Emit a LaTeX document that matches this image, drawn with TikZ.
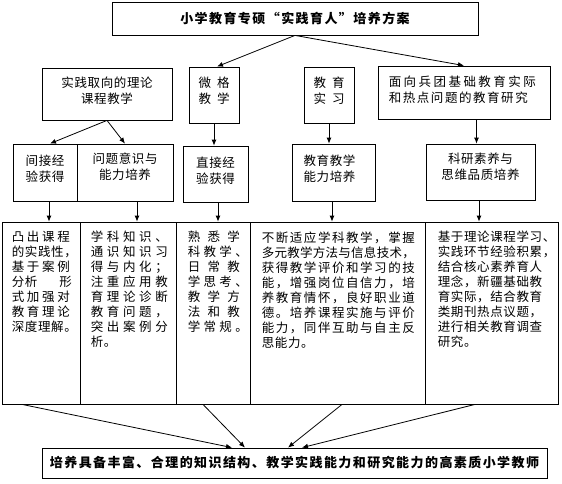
\documentclass[tikz,border=0pt]{standalone}
\usepackage{fontspec}
\setmainfont{Noto Sans CJK SC}[LetterSpace=5]
\newfontfamily\headfont{Noto Sans CJK SC}[LetterSpace=11]
\usetikzlibrary{arrows.meta,positioning}

% spread one line of characters over a given width
\ExplSyntaxOn
\NewDocumentCommand{\jl}{O{\linewidth}m}{\makebox[#1][s]{\tl_map_inline:nn{#2}{##1\hfil}\unskip}}
\ExplSyntaxOff

\tikzset{
  box/.style={draw, line width=0.8pt, inner sep=0pt},
  txt/.style={inner sep=0pt, align=center, font=\fontsize{12.5}{16.5}\selectfont},
  body/.style={inner sep=0pt, align=left, font=\fontsize{12.5}{15}\selectfont},
  head/.style={font=\headfont\bfseries\fontsize{13}{15}\selectfont},
  arr/.style={line width=0.8pt, -{Latex[length=6pt,width=5pt]}},
}

\begin{document}
\begin{tikzpicture}[x=1pt,y=-1pt]
\useasboundingbox (0,0) rectangle (562,483);
% top
\node[box, head, minimum width=366, minimum height=33] (plan) at (295,18.5) {小学教育专硕“实践育人”培养方案};
% second row
\node[box, minimum width=130, minimum height=52] (theory) at (107,94) {};
\node[txt, below=9pt of theory.north] (theoryt) {实践取向的理论\\课程教学};
\node[box, minimum width=50, minimum height=56] (micro) at (214,95) {};
\node[txt, below=10pt of micro.north] (microt) {\jl[31pt]{微格}\\\jl[31pt]{教学}};
\node[box, minimum width=50, minimum height=56] (practice) at (329,95) {};
\node[txt, below=10pt of practice.north] (practicet) {\jl[31pt]{教育}\\\jl[31pt]{实习}};
\node[box, minimum width=172, minimum height=53] (research) at (464,92.5) {};
\node[txt, align=left, below right=10pt and 11pt of research.north west] (researcht) {\jl[147pt]{面向兵团基础教育实际}\\\jl[139pt]{和热点问题的教育研究}};
% third row
\node[box, minimum width=64, minimum height=57] (indirect) at (45,172.5) {};
\node[txt, below=11pt of indirect.north] (indirectt) {间接经\\验获得};
\node[box, minimum width=96, minimum height=57] (problem) at (125,172.5) {};
\node[txt, below=9pt of problem.north] (problemt) {问题意识与\\能力培养};
\node[box, minimum width=65, minimum height=56] (direct) at (215.5,174) {};
\node[txt, below=11pt of direct.north] (directt) {直接经\\验获得};
\node[box, minimum width=83, minimum height=57] (teach) at (333.5,172.5) {};
\node[txt, below=11pt of teach.north, xshift=-4pt] (teacht) {教育教学\\能力培养};
\node[box, minimum width=109, minimum height=56] (science) at (480.5,172) {};
\node[txt, below=9pt of science.north] (sciencet) {科研素养与\\思维品质培养};
% fourth row
\node[box, minimum width=78, minimum height=182] (case) at (41,313) {};
\node[body, text width=66pt, below right=9pt and 10pt of case.north west] (caset)
  {\jl[58pt]{凸出课程}\\的实践性，\\\jl[58pt]{基于案例}\\\makebox[60pt][l]{分析\hfill 形}\\\jl[58pt]{式加强对}\\\jl[58pt]{教育理论}\\深度理解。};
\node[box, minimum width=96, minimum height=182] (knowledge) at (128,313) {};
\node[body, text width=77pt, below right=9pt and 11pt of knowledge.north west] (knowledget)
  {\jl{学科知识、}\\\jl{通识知识习}\\\jl{得与内化；}\\\jl{注重应用教}\\\jl{育理论诊断}\\\jl{教育问题，}\\\jl{突出案例分}\\析。};
\node[box, minimum width=74, minimum height=182] (routine) at (213,313) {};
\node[body, text width=60pt, below right=9pt and 12pt of routine.north west] (routinet)
  {\jl[52pt]{熟悉学}\\\jl{科教学、}\\\jl[52pt]{日常教}\\\jl{学思考、}\\\jl[52pt]{教学方}\\\jl[52pt]{法和教}\\\jl{学常规。}};
\node[box, minimum width=175, minimum height=182] (skill) at (337.5,313) {};
\node[body, text width=153pt, below right=10pt and 12pt of skill.north west] (skillt)
  {\jl{不断适应学科教学，掌握}\\\jl{多元教学方法与信息技术，}\\\jl{获得教学评价和学习的技}\\\jl{能，增强岗位自信力，培}\\\jl{养教育情怀，良好职业道}\\\jl{德。培养课程实施与评价}\\\jl{能力，同伴互助与自主反}\\思能力。};
\node[box, minimum width=133, minimum height=182] (survey) at (491.5,313) {};
\node[body, text width=118pt, below right=9pt and 13pt of survey.north west] (surveyt)
  {基于理论课程学习、\\实践环节经验积累，\\结合核心素养育人\\理念，新疆基础教\\育实际，结合教育\\类期刊热点议题，\\进行相关教育调查\\研究。};
% bottom
\node[box, head, minimum width=505, minimum height=30] (goal) at (294.5,463) {培养具备丰富、合理的知识结构、教学实践能力和研究能力的高素质小学教师};

\draw[arr] (plan.south) -- ([xshift=3pt]micro.north);
\draw[arr] (plan.south) -- (research.north);
\draw[arr] (theory.south) -- ([xshift=5pt]indirect.north);
\draw[arr] (theory.south) -- (problem.north);
\draw[arr] (micro.south) -- (micro.south |- direct.north);
\draw[arr] (practice.south) -- (practice.south |- teach.north);
\draw[arr] ([xshift=-4pt]science.north |- research.south) -- ([xshift=-4pt]science.north);
\draw[arr] ([xshift=4pt]indirect.south) -- ([xshift=4pt]indirect.south |- case.north);
\draw[arr] ([xshift=12pt]problem.south) -- ([xshift=12pt]problem.south |- knowledge.north);
\draw[arr] ([xshift=2.5pt]direct.south) -- ([xshift=2.5pt]direct.south |- routine.north);
\draw[arr] ([xshift=-1.5pt]teach.south) -- ([xshift=-1.5pt]teach.south |- skill.north);
\draw[arr] ([xshift=-1.5pt]science.south) -- ([xshift=-1.5pt]science.south |- survey.north);
\draw[arr] ([xshift=-19pt]case.south) -- ([xshift=-62.5pt]goal.north);
\draw[arr] ([xshift=-10pt]routine.south) -- ([xshift=-49.5pt]goal.north);
\draw[arr] ([xshift=4.5pt]skill.south) -- ([xshift=-6.5pt]goal.north);
\draw[arr] ([xshift=-16.5pt]survey.south) -- ([xshift=7.5pt]goal.north);
\end{tikzpicture}
\end{document}
